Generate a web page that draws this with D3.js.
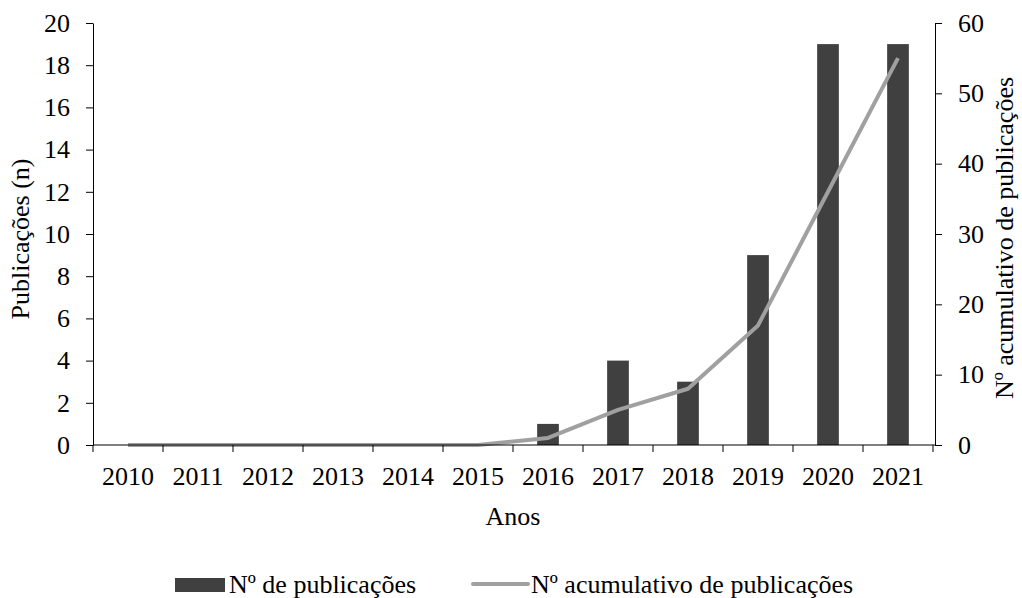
<!DOCTYPE html>
<html><head><meta charset="utf-8">
<script src="https://cdn.jsdelivr.net/npm/d3@7"></script>
<style>body{margin:0;background:#fff}svg{display:block}</style>
</head><body>
<svg id="c" width="1022" height="598"></svg>
<script>
const years = ["2010","2011","2012","2013","2014","2015","2016","2017","2018","2019","2020","2021"];
const publications = [0,0,0,0,0,0,1,4,3,9,19,19];
const cumulative = [0,0,0,0,0,0,1,5,8,17,36,55];
const leftTicks = [0,2,4,6,8,10,12,14,16,18,20];
const rightTicks = [0,10,20,30,40,50,60];

const FONT = "'Liberation Serif', 'Times New Roman', Tinos, 'DejaVu Serif', serif";
const FS = 26;
const svg = d3.select("#c").style("font-family", FONT).attr("font-size", FS);
const L = 93, R = 933, T = 23, B = 445;
const x = d3.scaleBand().domain(years).range([L, R]).paddingInner(0.69).paddingOuter(0.345);
const xc = d3.scalePoint().domain(years).range([L, R]).padding(0.5);
const yL = d3.scaleLinear().domain([0,20]).range([B, T]);
const yR = d3.scaleLinear().domain([0,60]).range([B, T]);

svg.append("g").selectAll("rect").data(years).join("rect")
  .attr("x", d => x(d)).attr("width", x.bandwidth())
  .attr("y", (d,i) => yL(publications[i])).attr("height", (d,i) => B - yL(publications[i]))
  .attr("fill", "#404040");

const line = d3.line().x((d,i) => xc(years[i])).y(d => yR(d));
svg.append("path").datum(cumulative).attr("d", line)
  .attr("fill","none").attr("stroke","#a0a0a0").attr("stroke-width",4).attr("stroke-linejoin","round");

function style(g){
  g.attr("font-family", null).attr("font-size", FS);
  g.selectAll("path.domain").attr("stroke","#000").attr("stroke-width",1);
  g.selectAll("line").attr("stroke","#000");
  g.selectAll("text").attr("fill","#000").style("font-family", FONT);
}

svg.append("g").attr("transform",`translate(${L},0)`)
  .call(d3.axisLeft(yL).tickValues(leftTicks).tickSize(7).tickPadding(16).tickSizeOuter(0))
  .call(style);
svg.append("g").attr("transform",`translate(${R+2},0)`)
  .call(d3.axisRight(yR).tickValues(rightTicks).tickSize(7).tickPadding(16).tickSizeOuter(0))
  .call(style);
const gx = svg.append("g").attr("transform",`translate(0,${B})`);
gx.append("line").attr("x1",L).attr("x2",R+2).attr("y1",0).attr("y2",0).attr("stroke","#000");
const step = (R - L) / years.length;
gx.selectAll("line.t").data(d3.range(years.length+1)).join("line").attr("class","t")
  .attr("x1", i => L + i*step).attr("x2", i => L + i*step).attr("y1",0).attr("y2",7).attr("stroke","#000");
gx.selectAll("text").data(years).join("text")
  .attr("x", d => xc(d)).attr("y", 40).attr("text-anchor","middle").text(d => d);

svg.append("text").attr("x",(L+R)/2).attr("y",525).attr("text-anchor","middle").text("Anos");
svg.append("text").attr("transform",`translate(29,239) rotate(-90)`).attr("text-anchor","middle").text("Publicações (n)");
svg.append("text").attr("transform",`translate(1013,238) rotate(-90)`).attr("text-anchor","middle").text("Nº acumulativo de publicações");

const lg = svg.append("g");
lg.append("rect").attr("x",175).attr("y",578).attr("width",50).attr("height",14).attr("fill","#404040");
lg.append("text").attr("x",229).attr("y",593).text("Nº de publicações");
lg.append("line").attr("x1",473).attr("x2",528).attr("y1",584).attr("y2",584).attr("stroke","#a0a0a0").attr("stroke-width",4).attr("stroke-linecap","round");
lg.append("text").attr("x",531).attr("y",593).text("Nº acumulativo de publicações");
</script>
</body></html>
